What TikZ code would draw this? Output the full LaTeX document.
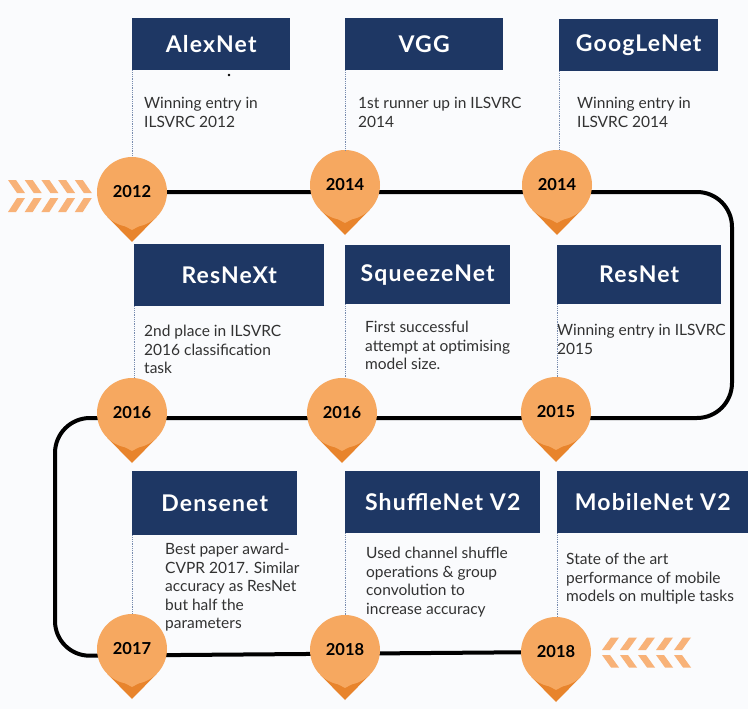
\documentclass[tikz,border=0pt]{standalone}
\usepackage{fontspec}
\setmainfont{Lato}
\newfontfamily\titlefont{Lato}[LetterSpace=5]
\usetikzlibrary{backgrounds}
\definecolor{navy}{RGB}{30,55,100}
\definecolor{pinlight}{RGB}{246,168,96}
\definecolor{pindark}{RGB}{232,132,44}
\definecolor{chev}{RGB}{248,178,120}
\definecolor{dotc}{RGB}{120,140,175}
\definecolor{desc}{RGB}{50,50,50}
\definecolor{bgc}{RGB}{250,251,253}
\tikzset{
  titlebox/.style={fill=navy, text=white, font=\titlefont\bfseries\fontsize{23}{26}\selectfont, anchor=north west, inner sep=0pt},
  desctext/.style={anchor=north west, inner sep=0pt, align=left, text=desc, font=\fontsize{15.5}{18.5}\selectfont},
  yearpin/.style={circle, fill=pinlight, minimum size=70pt, inner sep=0pt, font=\bfseries\fontsize{16.5}{16.5}\selectfont, text=black},
  dotline/.style={dotc, densely dotted, line width=0.8pt},
  track/.style={line width=4pt, rounded corners=35pt},
}
\newcommand\pintip[1]{%
  \fill[pindark] ([xshift=-25pt,yshift=-24.5pt]#1.center) -- ([xshift=25pt,yshift=-24.5pt]#1.center) -- ([yshift=-50pt]#1.center) -- cycle;
  \fill[pinlight] ([xshift=-25pt,yshift=-24.5pt]#1.center) -- ([xshift=25pt,yshift=-24.5pt]#1.center) -- ([yshift=-38pt]#1.center) -- cycle;
}
\newcommand\chevright[2]{% x0, center y
  \fill[chev] (#1,#2-16) -- (#1+8,#2-16) -- (#1+17,#2-3) -- (#1+9,#2-3) -- cycle;
  \fill[chev] (#1,#2+16) -- (#1+8,#2+16) -- (#1+17,#2+2) -- (#1+9,#2+2) -- cycle;
}
\newcommand\chevleft[2]{% x0 (tip), center y
  \fill[chev] (#1+9,#2-15) -- (#1+17,#2-15) -- (#1+8,#2-2.5) -- (#1,#2-2.5) -- cycle;
  \fill[chev] (#1+9,#2+15) -- (#1+17,#2+15) -- (#1+8,#2+2.5) -- (#1,#2+2.5) -- cycle;
}
\begin{document}
\begin{tikzpicture}[x=1pt,y=-1pt]
\path[use as bounding box] (0,0) rectangle (748,709);

% title boxes
\node[titlebox, minimum width=158pt, minimum height=52pt] (alex) at (132,18) {AlexNet};
\node[titlebox, minimum width=158pt, minimum height=52pt] (vgg) at (345,18) {VGG};
\node[titlebox, minimum width=159pt, minimum height=52pt] (goog) at (559,19) {GoogLeNet};
\node[titlebox, minimum width=190pt, minimum height=62pt] (resnext) at (134,244) {ResNeXt};
\node[titlebox, minimum width=165pt, minimum height=59pt] (squeeze) at (345,245) {SqueezeNet};
\node[titlebox, minimum width=164pt, minimum height=59pt] (resnet) at (557,245) {ResNet};
\node[titlebox, minimum width=165pt, minimum height=64pt] (dense) at (132,471) {Densenet};
\node[titlebox, minimum width=195pt, minimum height=62pt] (shuffle) at (345,471) {ShuffleNet V2};
\node[titlebox, minimum width=191pt, minimum height=62pt] (mobile) at (557,471) {MobileNet V2};

\fill (229,75) circle (1.3pt);

% descriptions
\node[desctext] (d1) at (144,97) {Winning entry in\\ILSVRC 2012};
\node[desctext] (d2) at (358,97) {1st runner up in ILSVRC\\2014};
\node[desctext] (d3) at (577,97) {Winning entry in\\ILSVRC 2014};
\node[desctext] (d4) at (144,325) {2nd place in ILSVRC\\2016 classification\\task};
\node[desctext] (d5) at (365,321) {First successful\\attempt at optimising\\model size.};
\node[desctext] (d6) at (557,324) {Winning entry in ILSVRC\\2015};
\node[desctext] (d7) at (165,543) {Best paper award-\\CVPR 2017. Similar\\accuracy as ResNet\\but half the\\parameters};
\node[desctext] (d8) at (366,547) {Used channel shuffle\\operations \& group\\convolution to\\increase accuracy};
\node[desctext] (d9) at (566,553) {State of the art\\performance of mobile\\models on multiple tasks};

% year pins
\node[yearpin] (y2012) at (132,192) {\raisebox{-3pt}{2012}};
\node[yearpin] (y2014a) at (345,185) {\raisebox{-3pt}{2014}};
\node[yearpin] (y2014b) at (557,185) {\raisebox{-3pt}{2014}};
\node[yearpin] (y2016a) at (132,413) {\raisebox{-3pt}{2016}};
\node[yearpin] (y2016b) at (342,413) {\raisebox{-3pt}{2016}};
\node[yearpin] (y2015) at (556,412) {\raisebox{-3pt}{2015}};
\node[yearpin] (y2017) at (132,649) {\raisebox{-3pt}{2017}};
\node[yearpin] (y2018a) at (345,650) {\raisebox{-3pt}{2018}};
\node[yearpin] (y2018b) at (556,652) {\raisebox{-3pt}{2018}};

% dotted leaders
\draw[dotline] (alex.south west) -- (alex.south west |- y2012.north);
\draw[dotline] (vgg.south west) -- (vgg.south west |- y2014a.north);
\draw[dotline] (goog.south west) -- (goog.south west |- y2014b.north);
\draw[dotline] (resnext.south west) -- (resnext.south west |- y2016a.north);
\draw[dotline] (squeeze.south west) -- (squeeze.south west |- y2016b.north);
\draw[dotline] (resnet.south west) -- (resnet.south west |- y2015.north);
\draw[dotline] (dense.south west) -- (dense.south west |- y2017.north);
\draw[dotline] (shuffle.south west) -- (shuffle.south west |- y2018a.north);
\draw[dotline] (mobile.south west) -- (mobile.south west |- y2018b.north);

\begin{scope}[on background layer]
  \fill[bgc] (0,0) rectangle (748,709);
  \draw[track] (y2012.center) -- (732,192) -- (732,418) -- (55,418) -- (55,656) -- (y2018b.center);
  \pintip{y2012}\pintip{y2014a}\pintip{y2014b}
  \pintip{y2016a}\pintip{y2016b}\pintip{y2015}
  \pintip{y2017}\pintip{y2018a}\pintip{y2018b}
  \foreach \i in {0,...,4} {\chevright{8+16.7*\i}{196}}
  \foreach \i in {0,...,4} {\chevleft{602+18*\i}{652.5}}
\end{scope}
\end{tikzpicture}
\end{document}
